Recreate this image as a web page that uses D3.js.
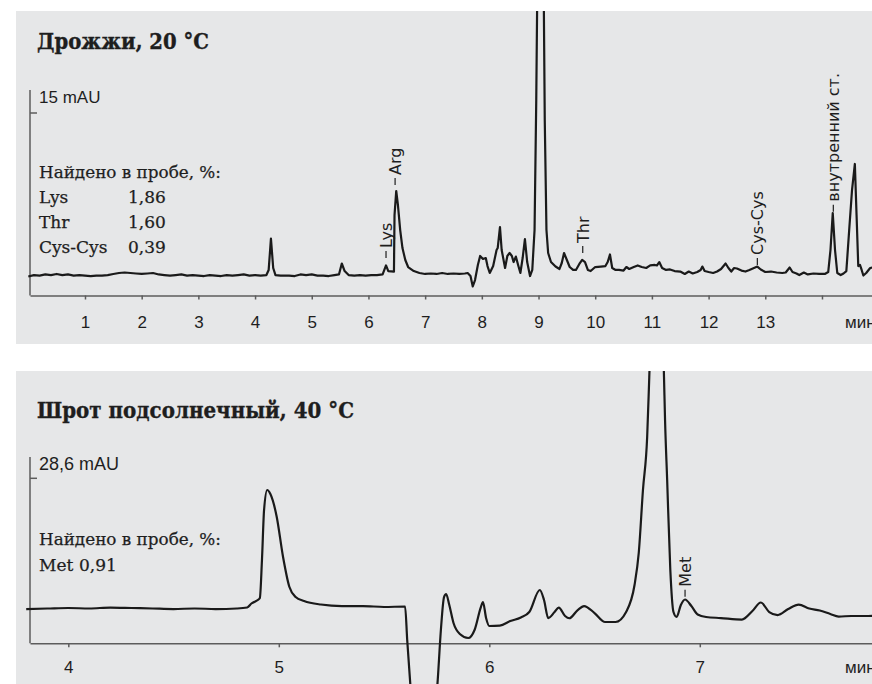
<!DOCTYPE html>
<html lang="ru">
<head>
<meta charset="UTF-8">
<title>Хроматограммы</title>
<script src="https://d3js.org/d3.v7.min.js"></script>
<style>
  body { margin: 0; padding: 0; background: #fff; }
  svg { display: block; }
  .sans { font-family: "Liberation Sans", Arial, sans-serif; fill: #1e1e1e; }
  .peak { font-family: "DejaVu Sans", sans-serif; fill: #1e1e1e; font-size: 16px; }
  .serif { font-family: "DejaVu Serif", serif; fill: #1e1e1e; stroke: #1e1e1e; stroke-width: 0.25; }
  .axis path, .axis line { stroke: #5c5c5c; stroke-width: 1.5; }
  .axis text { font-family: "Liberation Sans", Arial, sans-serif; font-size: 17px; fill: #1e1e1e; }
</style>
</head>
<body>
<div id="main"></div>
<script>
// --- yeast, 20 °C : time (min), signal (mAU)
var yeastTime = [0.00,0.10,0.20,0.30,0.40,0.50,0.60,0.70,0.80,0.90,1.00,1.10,1.20,1.30,1.40,1.50,1.60,1.70,1.80,1.90,
  2.00,2.10,2.20,2.30,2.40,2.50,2.60,2.70,2.80,2.90,3.00,3.10,3.20,3.30,3.40,3.50,3.60,3.70,3.80,3.90,
  4.00,4.10,4.20,4.24,4.28,4.32,4.36,4.45,4.60,4.70,4.80,4.90,5.00,5.10,5.20,5.30,5.40,5.48,5.53,5.58,
  5.65,5.75,5.85,5.95,6.05,6.15,6.25,6.28,6.31,6.35,6.45,6.46,6.49,6.52,6.56,6.60,6.65,6.70,6.80,6.90,
  7.00,7.10,7.20,7.30,7.40,7.50,7.60,7.70,7.75,7.80,7.84,7.88,7.93,7.97,8.02,8.07,8.10,8.14,8.20,8.26,
  8.28,8.32,8.35,8.41,8.45,8.49,8.53,8.56,8.60,8.64,8.68,8.72,8.76,8.80,8.85,8.89,8.93,8.96,8.98,9.03,
  9.09,9.11,9.14,9.17,9.22,9.30,9.37,9.41,9.45,9.50,9.55,9.61,9.66,9.72,9.77,9.82,9.87,9.92,10.00,10.10,
  10.18,10.22,10.26,10.30,10.36,10.42,10.50,10.55,10.60,10.68,10.75,10.82,10.90,10.97,11.05,11.09,11.13,11.18,11.25,11.32,
  11.40,11.50,11.58,11.65,11.72,11.80,11.86,11.89,11.93,12.00,12.08,12.15,12.22,12.30,12.35,12.40,12.45,12.50,12.58,12.65,
  12.72,12.80,12.86,12.92,13.00,13.10,13.20,13.30,13.36,13.43,13.48,13.55,13.60,13.68,13.75,13.85,13.95,14.05,14.11,14.15,
  14.19,14.23,14.27,14.33,14.38,14.43,14.48,14.53,14.58,14.61,14.64,14.67,14.70,14.73,14.78,14.85,14.90];
var yeastSignal = [1.56,1.68,1.64,1.73,1.68,1.77,1.68,1.73,1.64,1.68,1.64,1.60,1.64,1.64,1.68,1.77,1.85,1.89,1.85,1.81,
  1.77,1.81,1.85,1.73,1.68,1.64,1.68,1.73,1.64,1.68,1.64,1.60,1.68,1.64,1.60,1.68,1.64,1.68,1.73,1.64,
  1.68,1.64,1.68,2.10,4.68,2.26,1.68,1.64,1.64,1.60,1.73,1.68,1.73,1.64,1.64,1.60,1.68,1.73,2.63,2.01,
  1.68,1.64,1.68,1.64,1.68,1.68,1.73,2.10,2.47,2.01,1.97,6.61,8.59,7.44,5.38,3.90,2.92,2.34,2.01,1.85,
  1.77,1.81,1.77,1.85,1.77,1.81,1.77,1.81,1.85,1.60,0.74,1.27,2.51,3.25,3.00,3.08,2.42,1.85,2.42,3.74,
  3.90,5.63,3.74,2.26,3.25,3.49,3.25,2.75,3.20,2.51,1.85,3.08,4.64,2.75,1.60,2.10,5.38,16.06,26.0,30.0,
  26.0,14.42,5.38,3.49,2.75,2.38,2.18,2.67,3.49,2.92,2.34,2.10,2.10,2.59,2.92,2.75,2.10,2.01,2.34,2.38,
  2.42,2.75,3.37,2.26,2.10,2.10,2.05,2.34,2.18,2.34,2.47,2.34,2.26,2.47,2.51,2.47,2.75,2.26,2.10,2.14,
  2.01,1.97,1.77,1.97,1.81,1.93,2.10,2.38,2.01,1.93,1.85,1.97,2.18,2.63,2.26,1.97,2.26,2.22,2.05,1.97,
  2.10,2.26,2.38,2.14,1.93,1.97,1.89,1.85,1.89,2.30,1.93,1.81,1.68,1.89,1.73,1.81,1.77,1.77,1.93,3.74,
  6.78,3.74,1.85,1.68,1.81,2.01,5.38,8.67,10.81,6.61,2.42,2.51,2.10,1.64,1.85,2.26,2.30];

// --- sunflower meal, 40 °C : time (min), signal (mAU)
var mealTime = [3.80,3.90,4.00,4.10,4.20,4.30,4.40,4.50,4.60,4.70,4.80,4.85,4.87,4.90,4.91,4.92,4.93,4.945,4.96,4.99,
  5.02,5.05,5.08,5.12,5.20,5.30,5.40,5.50,5.60,5.61,5.63,5.66,5.70,5.73,5.755,5.77,5.785,5.795,5.81,5.83,
  5.86,5.90,5.93,5.96,5.97,5.985,6.00,6.05,6.10,6.15,6.19,6.24,6.26,6.28,6.31,6.33,6.36,6.38,6.42,6.45,
  6.50,6.55,6.60,6.65,6.69,6.71,6.73,6.75,6.76,6.795,6.83,6.835,6.845,6.86,6.875,6.89,6.91,6.93,6.96,6.99,
  7.03,7.10,7.20,7.25,7.29,7.33,7.37,7.42,7.47,7.52,7.57,7.62,7.66,7.72,7.80,7.85];
var mealSignal = [5.94,6.03,6.12,6.03,6.20,6.12,6.03,5.94,6.03,5.94,6.03,6.20,6.90,7.50,7.85,14.44,23.10,26.57,25.87,21.94,
  15.01,9.81,8.02,7.33,6.72,6.46,6.46,6.29,6.38,0.57,-9.83,-20.2,-21.9,-16.8,-6.36,2.31,8.02,8.54,6.64,3.52,
  1.61,0.92,2.31,6.29,7.16,4.34,3.00,3.08,3.86,4.47,5.42,9.24,7.50,4.38,5.42,6.20,4.73,4.34,5.77,6.46,
  5.25,3.69,3.69,5.42,10.10,15.65,26.57,35.75,46.15,85.0,46.15,38.7,28.3,12.70,5.42,4.56,6.64,7.59,6.46,4.99,
  4.56,4.38,4.12,5.60,7.07,5.42,4.90,5.94,6.72,6.03,5.68,5.08,4.64,4.73,4.73,4.82];

var yeastTicks = [1,2,3,4,5,6,7,8,9,10,11,12,13,14];
var mealTicks = [4,5,6,7];

var yeastPeakNames = ['Lys', 'Arg', 'Thr', 'Cys-Cys', 'внутренний ст.'];
var yeastPeakTimes = [6.31, 6.47, 9.78, 12.86, 14.20];
var yeastPeakLevels = [3.08, 9.08, 3.49, 2.51, 6.89];
var mealPeakNames = ['Met'];
var mealPeakTimes = [6.93];
var mealPeakLevels = [8.08];

var yeastFound = [['Lys', '1,86'], ['Thr', '1,60'], ['Cys-Cys', '0,39']];
var mealFound = [['Met', '0,91']];

var width = 872, height = 684;

var svg = d3.select('#main').append('svg')
  .attr('width', width)
  .attr('height', height);

function drawPanel(cfg) {
  svg.append('clipPath').attr('id', cfg.id)
    .append('rect')
    .attr('x', cfg.box[0]).attr('y', cfg.box[1])
    .attr('width', cfg.box[2]).attr('height', cfg.box[3]);

  var g = svg.append('g').attr('clip-path', 'url(#' + cfg.id + ')');

  g.append('rect')
    .attr('x', cfg.box[0]).attr('y', cfg.box[1])
    .attr('width', cfg.box[2]).attr('height', cfg.box[3])
    .attr('fill', '#e6e7e8');

  var x = d3.scaleLinear().domain(cfg.xDomain).range([30, cfg.xEnd]);
  var y = d3.scaleLinear().domain([0, cfg.scaleVal]).range([cfg.axisY, cfg.scaleY]);

  // x axis
  var xAxis = d3.axisBottom(x)
    .tickValues(cfg.ticks)
    .tickSize(4)
    .tickSizeOuter(0)
    .tickPadding(cfg.tickPad)
    .tickFormat(function(d) { return d == 14 ? '' : d; });

  var ax = g.append('g')
    .attr('class', 'axis')
    .attr('transform', 'translate(0,' + cfg.axisY + ')')
    .call(xAxis);

  ax.append('text')
    .attr('x', 845).attr('y', cfg.tickPad + 4).attr('dy', '0.71em')
    .attr('text-anchor', 'start')
    .text('мин');

  // y scale bar
  g.append('line')
    .attr('x1', 30).attr('x2', 30)
    .attr('y1', cfg.barTop).attr('y2', cfg.axisY)
    .attr('stroke', '#5c5c5c').attr('stroke-width', 1.5);
  g.append('line')
    .attr('x1', 30).attr('x2', 37)
    .attr('y1', y(cfg.scaleVal)).attr('y2', y(cfg.scaleVal))
    .attr('stroke', '#5c5c5c').attr('stroke-width', 1.5);
  g.append('text').attr('class', 'sans')
    .attr('x', 39).attr('y', cfg.barTop + 13)
    .style('font-size', cfg.unitSize + 'px')
    .text(cfg.unitLabel);

  // signal
  var pts = d3.zip(cfg.time, cfg.signal);
  var line = d3.line()
    .x(function(d) { return x(d[0]); })
    .y(function(d) { return y(d[1]); })
    .curve(cfg.curve);

  g.append('path')
    .datum(pts)
    .attr('d', line)
    .attr('fill', 'none')
    .attr('stroke', '#1a1a1a')
    .attr('stroke-width', 2.2)
    .attr('stroke-linejoin', 'round');

  // peak labels
  cfg.peakNames.forEach(function(name, i) {
    var px = x(cfg.peakTimes[i]);
    var py = y(cfg.peakLevels[i]);
    g.append('line')
      .attr('x1', px).attr('x2', px)
      .attr('y1', py).attr('y2', py - 7)
      .attr('stroke', '#1e1e1e').attr('stroke-width', 1.2);
    g.append('text').attr('class', 'peak')
      .attr('transform', 'translate(' + px + ',' + (py - 10) + ') rotate(-90)')
      .attr('dy', '0.38em')
      .text(name);
  });

  // title
  g.append('text').attr('class', 'serif')
    .attr('x', 37).attr('y', cfg.titleY)
    .style('font-size', '23px').style('font-weight', 'bold')
    .style('stroke-width', 0.4)
    .attr('textLength', cfg.titleLen).attr('lengthAdjust', 'spacingAndGlyphs')
    .text(cfg.title);

  // found in sample block
  g.append('text').attr('class', 'serif')
    .attr('x', 39).attr('y', cfg.foundY)
    .style('font-size', '17px')
    .attr('textLength', 182).attr('lengthAdjust', 'spacingAndGlyphs')
    .text('Найдено в пробе, %:');

  cfg.found.forEach(function(row, i) {
    var yy = cfg.foundY + cfg.rowGap * (i + 1);
    g.append('text').attr('class', 'serif')
      .attr('x', 39).attr('y', yy)
      .style('font-size', '17px')
      .text(row[0]);
    g.append('text').attr('class', 'serif')
      .attr('x', cfg.valueX).attr('y', yy)
      .style('font-size', '17px')
      .text(row[1]);
  });
}

drawPanel({
  id: 'clipTop',
  box: [16, 11, 856, 333],
  xDomain: [0.03, 14.9], xEnd: 873,
  axisY: 295.5, scaleVal: 15, scaleY: 113, barTop: 90,
  ticks: yeastTicks, tickPad: 16,
  unitLabel: '15 mAU', unitSize: 17,
  time: yeastTime, signal: yeastSignal,
  curve: d3.curveLinear,
  peakNames: yeastPeakNames, peakTimes: yeastPeakTimes, peakLevels: yeastPeakLevels,
  title: 'Дрожжи, 20 °C', titleY: 49, titleLen: 172,
  foundY: 178, rowGap: 25, valueX: 128,
  found: yeastFound
});

drawPanel({
  id: 'clipBottom',
  box: [16, 371, 856, 313],
  xDomain: [3.818, 7.84], xEnd: 876.6,
  axisY: 643.3, scaleVal: 28.6, scaleY: 478.3, barTop: 457,
  ticks: mealTicks, tickPad: 13.5,
  unitLabel: '28,6 mAU', unitSize: 18,
  time: mealTime, signal: mealSignal,
  curve: d3.curveMonotoneX,
  peakNames: mealPeakNames, peakTimes: mealPeakTimes, peakLevels: mealPeakLevels,
  title: 'Шрот подсолнечный, 40 °C', titleY: 418, titleLen: 317,
  foundY: 545, rowGap: 26, valueX: 79,
  found: mealFound
});
</script>
</body>
</html>
